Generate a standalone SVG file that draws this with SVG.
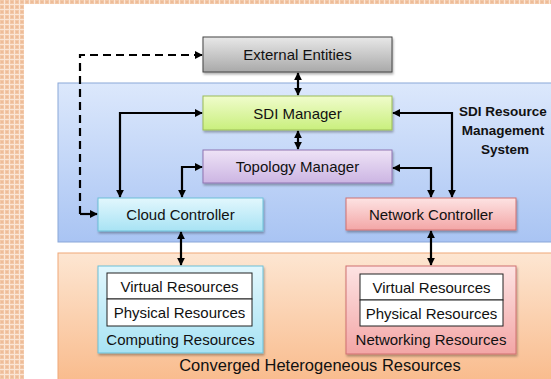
<svg xmlns="http://www.w3.org/2000/svg" width="551" height="379" viewBox="0 0 551 379">
<defs>
<pattern id="tex" width="5" height="5" patternUnits="userSpaceOnUse">
<rect width="5" height="5" fill="#fbe6d6"/>
<rect width="4" height="4" fill="#f2c8a8"/>
<rect x="1" y="1" width="2" height="2" fill="#eebc98"/>
</pattern>
<linearGradient id="gBlue" x1="0" y1="0" x2="0" y2="1"><stop offset="0" stop-color="#dce8fc"/><stop offset="1" stop-color="#a9c4f3"/></linearGradient>
<linearGradient id="gOrange" x1="0" y1="0" x2="0" y2="1"><stop offset="0" stop-color="#fde6d2"/><stop offset="1" stop-color="#f9bb8c"/></linearGradient>
<linearGradient id="gGray" x1="0" y1="0" x2="0" y2="1"><stop offset="0" stop-color="#e8e8e8"/><stop offset="1" stop-color="#a9a9a9"/></linearGradient>
<linearGradient id="gGreen" x1="0" y1="0" x2="0" y2="1"><stop offset="0" stop-color="#f0fccc"/><stop offset="1" stop-color="#c9ef7d"/></linearGradient>
<linearGradient id="gPurple" x1="0" y1="0" x2="0" y2="1"><stop offset="0" stop-color="#eee3f6"/><stop offset="1" stop-color="#ccb5e3"/></linearGradient>
<linearGradient id="gCyan" x1="0" y1="0" x2="0" y2="1"><stop offset="0" stop-color="#e2f7fd"/><stop offset="1" stop-color="#a8e3f4"/></linearGradient>
<linearGradient id="gPink" x1="0" y1="0" x2="0" y2="1"><stop offset="0" stop-color="#fde3e3"/><stop offset="1" stop-color="#f3a6a6"/></linearGradient>
<filter id="sh" x="-10%" y="-10%" width="130%" height="140%"><feDropShadow dx="1" dy="2" stdDeviation="1.2" flood-color="#000" flood-opacity="0.3"/></filter>
<marker id="ah" viewBox="0 0 10 10" refX="9" refY="5" markerWidth="3.6" markerHeight="3.6" orient="auto-start-reverse"><path d="M0,0 L10,5 L0,10 z" fill="#000"/></marker>
<style>
text{font-family:"Liberation Sans",Arial,sans-serif;fill:#111;font-size:15px;text-anchor:middle}
.big{font-size:16.5px}
.bold{font-weight:bold;font-size:13.5px}
.c{fill:none;stroke:#000;stroke-width:2.2;marker-start:url(#ah);marker-end:url(#ah)}
.d{stroke-dasharray:8,5}
.inner{fill:#fff;stroke:#222;stroke-width:1}
</style>
</defs>
<rect width="551" height="379" fill="url(#tex)"/>
<rect x="24" y="4" width="527" height="375" fill="#fff"/>
<g id="sdi-rms">
<rect x="58" y="83" width="500" height="159" fill="url(#gBlue)" stroke="#8aa7d8" stroke-width="1"/>
<text class="bold" x="503" y="116">SDI Resource</text>
<text class="bold" x="503" y="135">Management</text>
<text class="bold" x="505" y="154">System</text>
</g>
<g id="converged">
<rect x="58" y="253" width="500" height="130" fill="url(#gOrange)" stroke="#f0a878" stroke-width="1"/>
<text class="big" x="320" y="371">Converged Heterogeneous Resources</text>
</g>
<g id="external">
<rect x="203" y="37" width="189" height="35" fill="url(#gGray)" stroke="#444" stroke-width="1" filter="url(#sh)"/>
<text x="297.5" y="60">External Entities</text>
</g>
<g id="sdi-manager">
<rect x="203" y="96" width="189" height="34" fill="url(#gGreen)" stroke="#9bbb59" stroke-width="1" filter="url(#sh)"/>
<text x="297.5" y="118.5">SDI Manager</text>
</g>
<g id="topology-manager">
<rect x="203" y="150" width="189" height="33" fill="url(#gPurple)" stroke="#8f74b2" stroke-width="1" filter="url(#sh)"/>
<text x="297.5" y="172">Topology Manager</text>
</g>
<g id="cloud-controller">
<rect x="98" y="198" width="165" height="33" fill="url(#gCyan)" stroke="#6cc0d8" stroke-width="1" filter="url(#sh)"/>
<text x="180.5" y="220">Cloud Controller</text>
</g>
<g id="network-controller">
<rect x="346" y="198" width="170" height="32" fill="url(#gPink)" stroke="#d07070" stroke-width="1" filter="url(#sh)"/>
<text x="431" y="220">Network Controller</text>
</g>
<g id="computing">
<rect x="98" y="266" width="165" height="87" fill="url(#gCyan)" stroke="#6cc0d8" stroke-width="1" filter="url(#sh)"/>
<rect class="inner" x="107" y="273" width="145" height="26"/>
<rect class="inner" x="107" y="299" width="145" height="27"/>
<text x="179.5" y="291.5">Virtual Resources</text>
<text x="179.5" y="318">Physical Resources</text>
<text x="180.5" y="345">Computing Resources</text>
</g>
<g id="networking">
<rect x="346" y="266" width="170" height="88" fill="url(#gPink)" stroke="#d07070" stroke-width="1" filter="url(#sh)"/>
<rect class="inner" x="360" y="274" width="143" height="26"/>
<rect class="inner" x="360" y="300" width="143" height="26"/>
<text x="431.5" y="292.5">Virtual Resources</text>
<text x="431.5" y="319">Physical Resources</text>
<text x="431" y="345">Networking Resources</text>
</g>
<g id="connectors">
<path class="c" d="M80,214 L97,214" style="marker-start:none"/>
<path class="c d" d="M80,214 L80,55 L202,55" style="marker-start:none"/>
<path class="c" d="M298,73 L298,95"/>
<path class="c" d="M298,131 L298,149"/>
<path class="c" d="M202,113 L120,113 L120,197"/>
<path class="c" d="M202,167 L182,167 L182,197"/>
<path class="c" d="M393,113 L452,113 L452,197"/>
<path class="c" d="M393,168 L431,168 L431,197"/>
<path class="c" d="M181,232 L181,265"/>
<path class="c" d="M431,231 L431,265"/>
</g>
</svg>
